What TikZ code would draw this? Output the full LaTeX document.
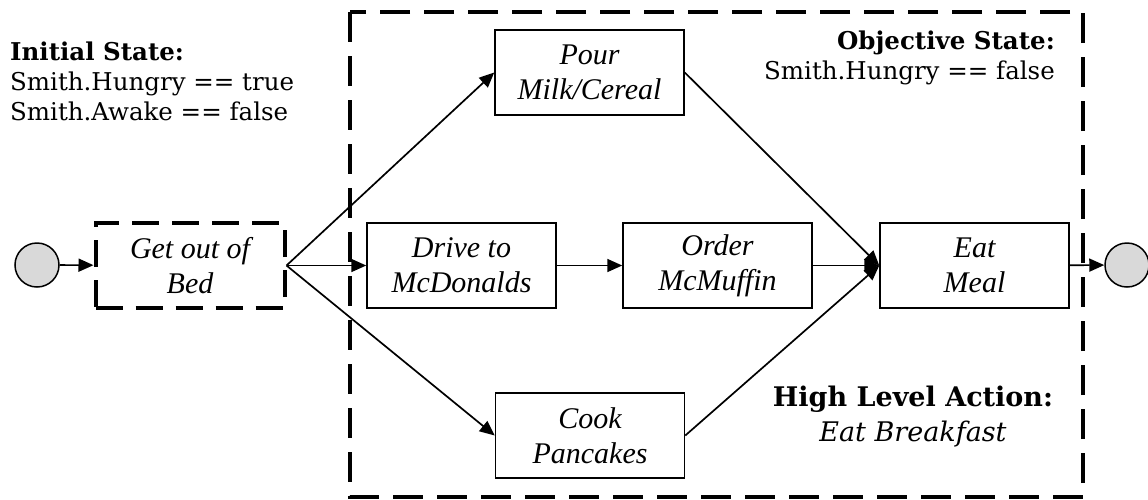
\documentclass[tikz,border=0pt]{standalone}
\usepackage{fontspec}
\newfontfamily\tmsfont{LiberationSerif-Italic.ttf}
\newfontfamily\bkfont{DejaVu Serif}
\usetikzlibrary{arrows.meta}
\definecolor{startgray}{HTML}{D9D9D9}
\tikzset{
  task/.style={draw, line width=1.5pt, minimum width=189pt, minimum height=85pt,
    inner sep=0pt, align=center, font=\tmsfont\fontsize{30}{35}\selectfont},
  bedbox/.style={task, line width=4pt, dash pattern=on 27pt off 13pt},
  terminal/.style={circle, draw, line width=1.5pt, fill=startgray, minimum size=44pt, inner sep=0pt},
  flow/.style={line width=1.7pt, -{Triangle[length=15pt, width=13pt]}},
  note/.style={inner sep=0pt, font=\bkfont\fontsize{24.5}{30}\selectfont},
  bignote/.style={inner sep=0pt, font=\bkfont\fontsize{27}{35}\selectfont},
}
\begin{document}
\begin{tikzpicture}[x=1pt, y=-1pt]
  \useasboundingbox (0,0) rectangle (1148,499);

  % high level action frame
  \draw[line width=4.5pt, dash pattern=on 30pt off 14pt] (350,12) rectangle (1083,497);

  % start / end markers
  \node[terminal] (start) at (37,265) {};
  \node[terminal] (finish) at (1127,265) {};

  % actions
  \node[bedbox] (bed) at (190,265.5) {Get out of\\Bed};
  \node[task] (pour) at (589.5,72.5) {Pour\\Milk/Cereal};
  \node[task] (drive) at (461.5,265.5) {Drive to\\McDonalds};
  \node[task] (order) at (717.5,265.5) {Order\\McMuffin};
  \node[task] (cook) at (590,435.5) {Cook\\Pancakes};
  \node[task] (eat) at (974.5,265.5) {Eat\\Meal};

  % state notes
  \node[note, anchor=north west, align=left] (init) at (10,42)
    {\textbf{Initial State:}\\Smith.Hungry == true\\Smith.Awake == false};
  \node[note, anchor=north east, align=right] (goal) at (1055,31)
    {\textbf{Objective State:}\\Smith.Hungry == false};
  \node[bignote, anchor=north, align=center] (hla) at (913,386)
    {\textbf{High Level Action:}\\\itshape Eat Breakfast};

  % flows
  \draw[flow] (start) -- (bed);
  \draw[flow] (bed.east) -- (pour.west);
  \draw[flow] (bed.east) -- (drive.west);
  \draw[flow] (bed.east) -- (cook.west);
  \draw[flow] (drive) -- (order);
  \draw[flow] (pour.east) -- (eat.west);
  \draw[flow] (order.east) -- (eat.west);
  \draw[flow] (cook.east) -- (eat.west);
  \draw[flow] (eat) -- (finish);
\end{tikzpicture}
\end{document}
